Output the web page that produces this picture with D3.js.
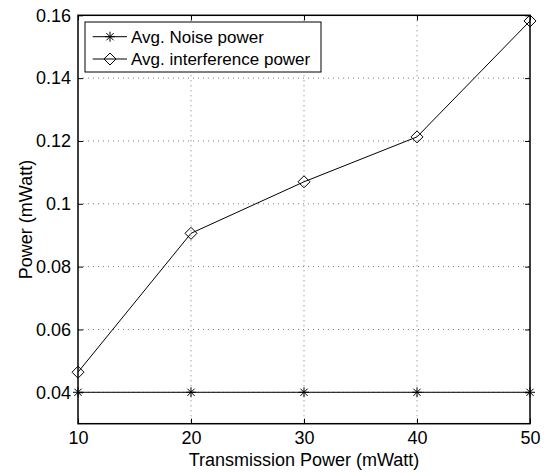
<!DOCTYPE html>
<html><head><meta charset="utf-8">
<script src="https://cdn.jsdelivr.net/npm/d3@7"></script>
<style>body{margin:0;background:#fff}svg{display:block}text{font-family:"Liberation Sans",Arial,sans-serif}</style>
</head><body><svg id="c" width="547" height="474"></svg>
<script>
const xValues = [10, 20, 30, 40, 50];
const noisePower = [0.04, 0.04, 0.04, 0.04, 0.04];
const interferencePower = [0.0464, 0.0906, 0.1070, 0.1213, 0.1582];
const xTicks = [10, 20, 30, 40, 50];
const yTicks = [0.04, 0.06, 0.08, 0.1, 0.12, 0.14, 0.16];
const seriesNames = ["Avg. Noise power", "Avg. interference power"];

const svg = d3.select("#c");
const L = 78, R = 530, T = 15.3, B = 423.7;
const x = d3.scaleLinear().domain([10, 50]).range([L, R]);
const y = d3.scaleLinear().domain([0.03, 0.16]).range([B, T]);

// grid
const g = svg.append("g");
g.selectAll(".gx").data(xTicks.slice(1, -1)).enter().append("line")
  .attr("x1", d => x(d)).attr("x2", d => x(d)).attr("y1", T).attr("y2", B)
  .attr("stroke", "#555").attr("stroke-width", 0.8).attr("stroke-dasharray", "1,4");
g.selectAll(".gy").data(yTicks.filter(d => d < 0.16)).enter().append("line")
  .attr("x1", L).attr("x2", R).attr("y1", d => y(d)).attr("y2", d => y(d))
  .attr("stroke", "#555").attr("stroke-width", 0.8).attr("stroke-dasharray", "1,4");

// axes
const fmt = d => String(+d.toFixed(2));
const ax = svg.append("g").attr("transform", `translate(0,${B})`)
  .call(d3.axisBottom(x).tickValues(xTicks).tickSizeInner(-5).tickSizeOuter(0).tickPadding(8).tickFormat(d3.format("d")));
const ay = svg.append("g").attr("transform", `translate(${L},0)`)
  .call(d3.axisLeft(y).tickValues(yTicks).tickSizeInner(-5).tickSizeOuter(0).tickPadding(7).tickFormat(fmt));
const axT = svg.append("g").attr("transform", `translate(0,${T})`)
  .call(d3.axisTop(x).tickValues(xTicks).tickSizeInner(-5).tickSizeOuter(0).tickFormat(""));
const ayR = svg.append("g").attr("transform", `translate(${R},0)`)
  .call(d3.axisRight(y).tickValues(yTicks).tickSizeInner(-5).tickSizeOuter(0).tickFormat(""));
[ax, ay, axT, ayR].forEach(a => {
  a.select(".domain").remove();
  a.selectAll("line").attr("stroke", "#000");
  a.selectAll("text").attr("font-size", 18).attr("fill", "#000").attr("font-family", "Liberation Sans, Arial, sans-serif");
});
svg.append("rect").attr("x", L).attr("y", T).attr("width", R - L).attr("height", B - T)
  .attr("fill", "none").attr("stroke", "#000").attr("stroke-width", 1.5);

// labels
svg.append("text").attr("x", (L + R) / 2).attr("y", 466).attr("text-anchor", "middle")
  .attr("font-size", 18).text("Transmission Power (mWatt)");
svg.append("text").attr("transform", `translate(32,${(T + B) / 2}) rotate(-90)`).attr("text-anchor", "middle")
  .attr("font-size", 18).text("Power (mWatt)");

// lines
const line = d3.line().x((d, i) => x(xValues[i])).y(d => y(d));
svg.append("path").datum(noisePower).attr("d", line).attr("fill", "none").attr("stroke", "#000").attr("stroke-width", 1);
svg.append("path").datum(interferencePower).attr("d", line).attr("fill", "none").attr("stroke", "#000").attr("stroke-width", 1);

function star(sel, cx, cy) {
  const s = 5, d = 3.6;
  const p = `M${cx - s},${cy}L${cx + s},${cy}M${cx},${cy - s}L${cx},${cy + s}M${cx - d},${cy - d}L${cx + d},${cy + d}M${cx - d},${cy + d}L${cx + d},${cy - d}`;
  sel.append("path").attr("d", p).attr("stroke", "#000").attr("stroke-width", 1).attr("fill", "none");
}
function diamond(sel, cx, cy) {
  const s = 6;
  sel.append("path").attr("d", `M${cx},${cy - s}L${cx + s},${cy}L${cx},${cy + s}L${cx - s},${cy}Z`)
    .attr("stroke", "#000").attr("stroke-width", 1).attr("fill", "none");
}
noisePower.forEach((v, i) => star(svg, x(xValues[i]), y(v)));
interferencePower.forEach((v, i) => diamond(svg, x(xValues[i]), y(v)));

// legend
const lg = svg.append("g");
lg.append("rect").attr("x", 85).attr("y", 22).attr("width", 236).attr("height", 50)
  .attr("fill", "#fff").attr("stroke", "#000").attr("stroke-width", 1);
const rows = [36.7, 59];
seriesNames.forEach((n, i) => {
  lg.append("line").attr("x1", 92.7).attr("x2", 127).attr("y1", rows[i]).attr("y2", rows[i]).attr("stroke", "#000");
  if (i === 0) star(lg, 110, rows[i]); else diamond(lg, 110, rows[i]);
  lg.append("text").attr("x", 131).attr("y", rows[i]).attr("dy", "0.35em").attr("font-size", 17).text(n);
});
</script></body></html>
